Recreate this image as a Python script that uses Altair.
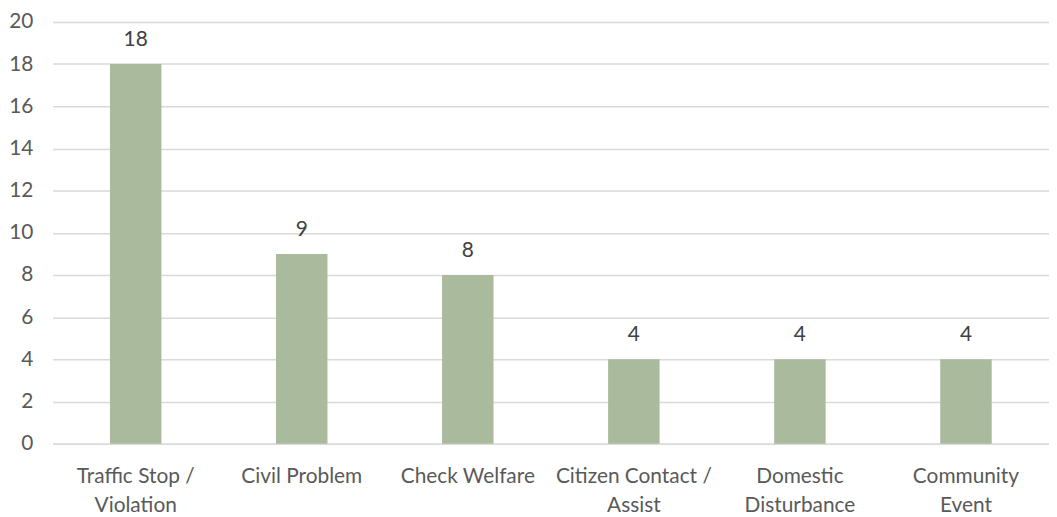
import altair as alt
import pandas as pd

categories = ["Traffic Stop / Violation", "Civil Problem", "Check Welfare",
              "Citizen Contact / Assist", "Domestic Disturbance", "Community Event"]
label_lines = [["Traffic Stop /", "Violation"], ["Civil Problem"], ["Check Welfare"],
               ["Citizen Contact /", "Assist"], ["Domestic", "Disturbance"], ["Community", "Event"]]
values = [18, 9, 8, 4, 4, 4]
y_ticks = list(range(0, 21, 2))

df = pd.DataFrame({"category": categories, "value": values})

def arr(lines):
    return "[" + ",".join("'" + s + "'" for s in lines) + "]"

label_expr = ""
for c, l in zip(categories, label_lines):
    label_expr += f"datum.value == '{c}' ? {arr(l)} : "
label_expr += "datum.label"

FONT = "Lato"
FS = 21

x = alt.X("category:N", sort=None, title=None,
          scale=alt.Scale(paddingInner=0.69, paddingOuter=0.345),
          axis=alt.Axis(labelAngle=0, labelExpr=label_expr, labelFont=FONT,
                        labelFontSize=FS, labelColor="#595959", labelPadding=22,
                        labelLineHeight=29, ticks=False, domain=True,
                        domainColor="#d9d9d9", domainWidth=1.5, labelLimit=200))
y = alt.Y("value:Q", title=None,
          scale=alt.Scale(domain=[0, 20], nice=False),
          axis=alt.Axis(values=y_ticks, labelFont=FONT, labelFontSize=FS,
                        labelColor="#595959", labelPadding=20, ticks=False,
                        domain=False, gridColor="#d9d9d9", gridWidth=1.5))

bars = alt.Chart(df).mark_bar(color="#A9BA9D").encode(x=x, y=y)
text = alt.Chart(df).mark_text(font=FONT, fontSize=FS, color="#404040",
                               baseline="alphabetic", dy=-18).encode(
    x=alt.X("category:N", sort=None), y="value:Q", text="value:Q")

chart = (bars + text).properties(
    width=1004, height=425,
    padding={"left": 45, "top": 12, "right": 0, "bottom": 90},
    autosize=alt.AutoSizeParams(type="none"),
).configure_view(stroke=None)

chart.save("out.html", embed_options={"renderer": "svg", "actions": False})
